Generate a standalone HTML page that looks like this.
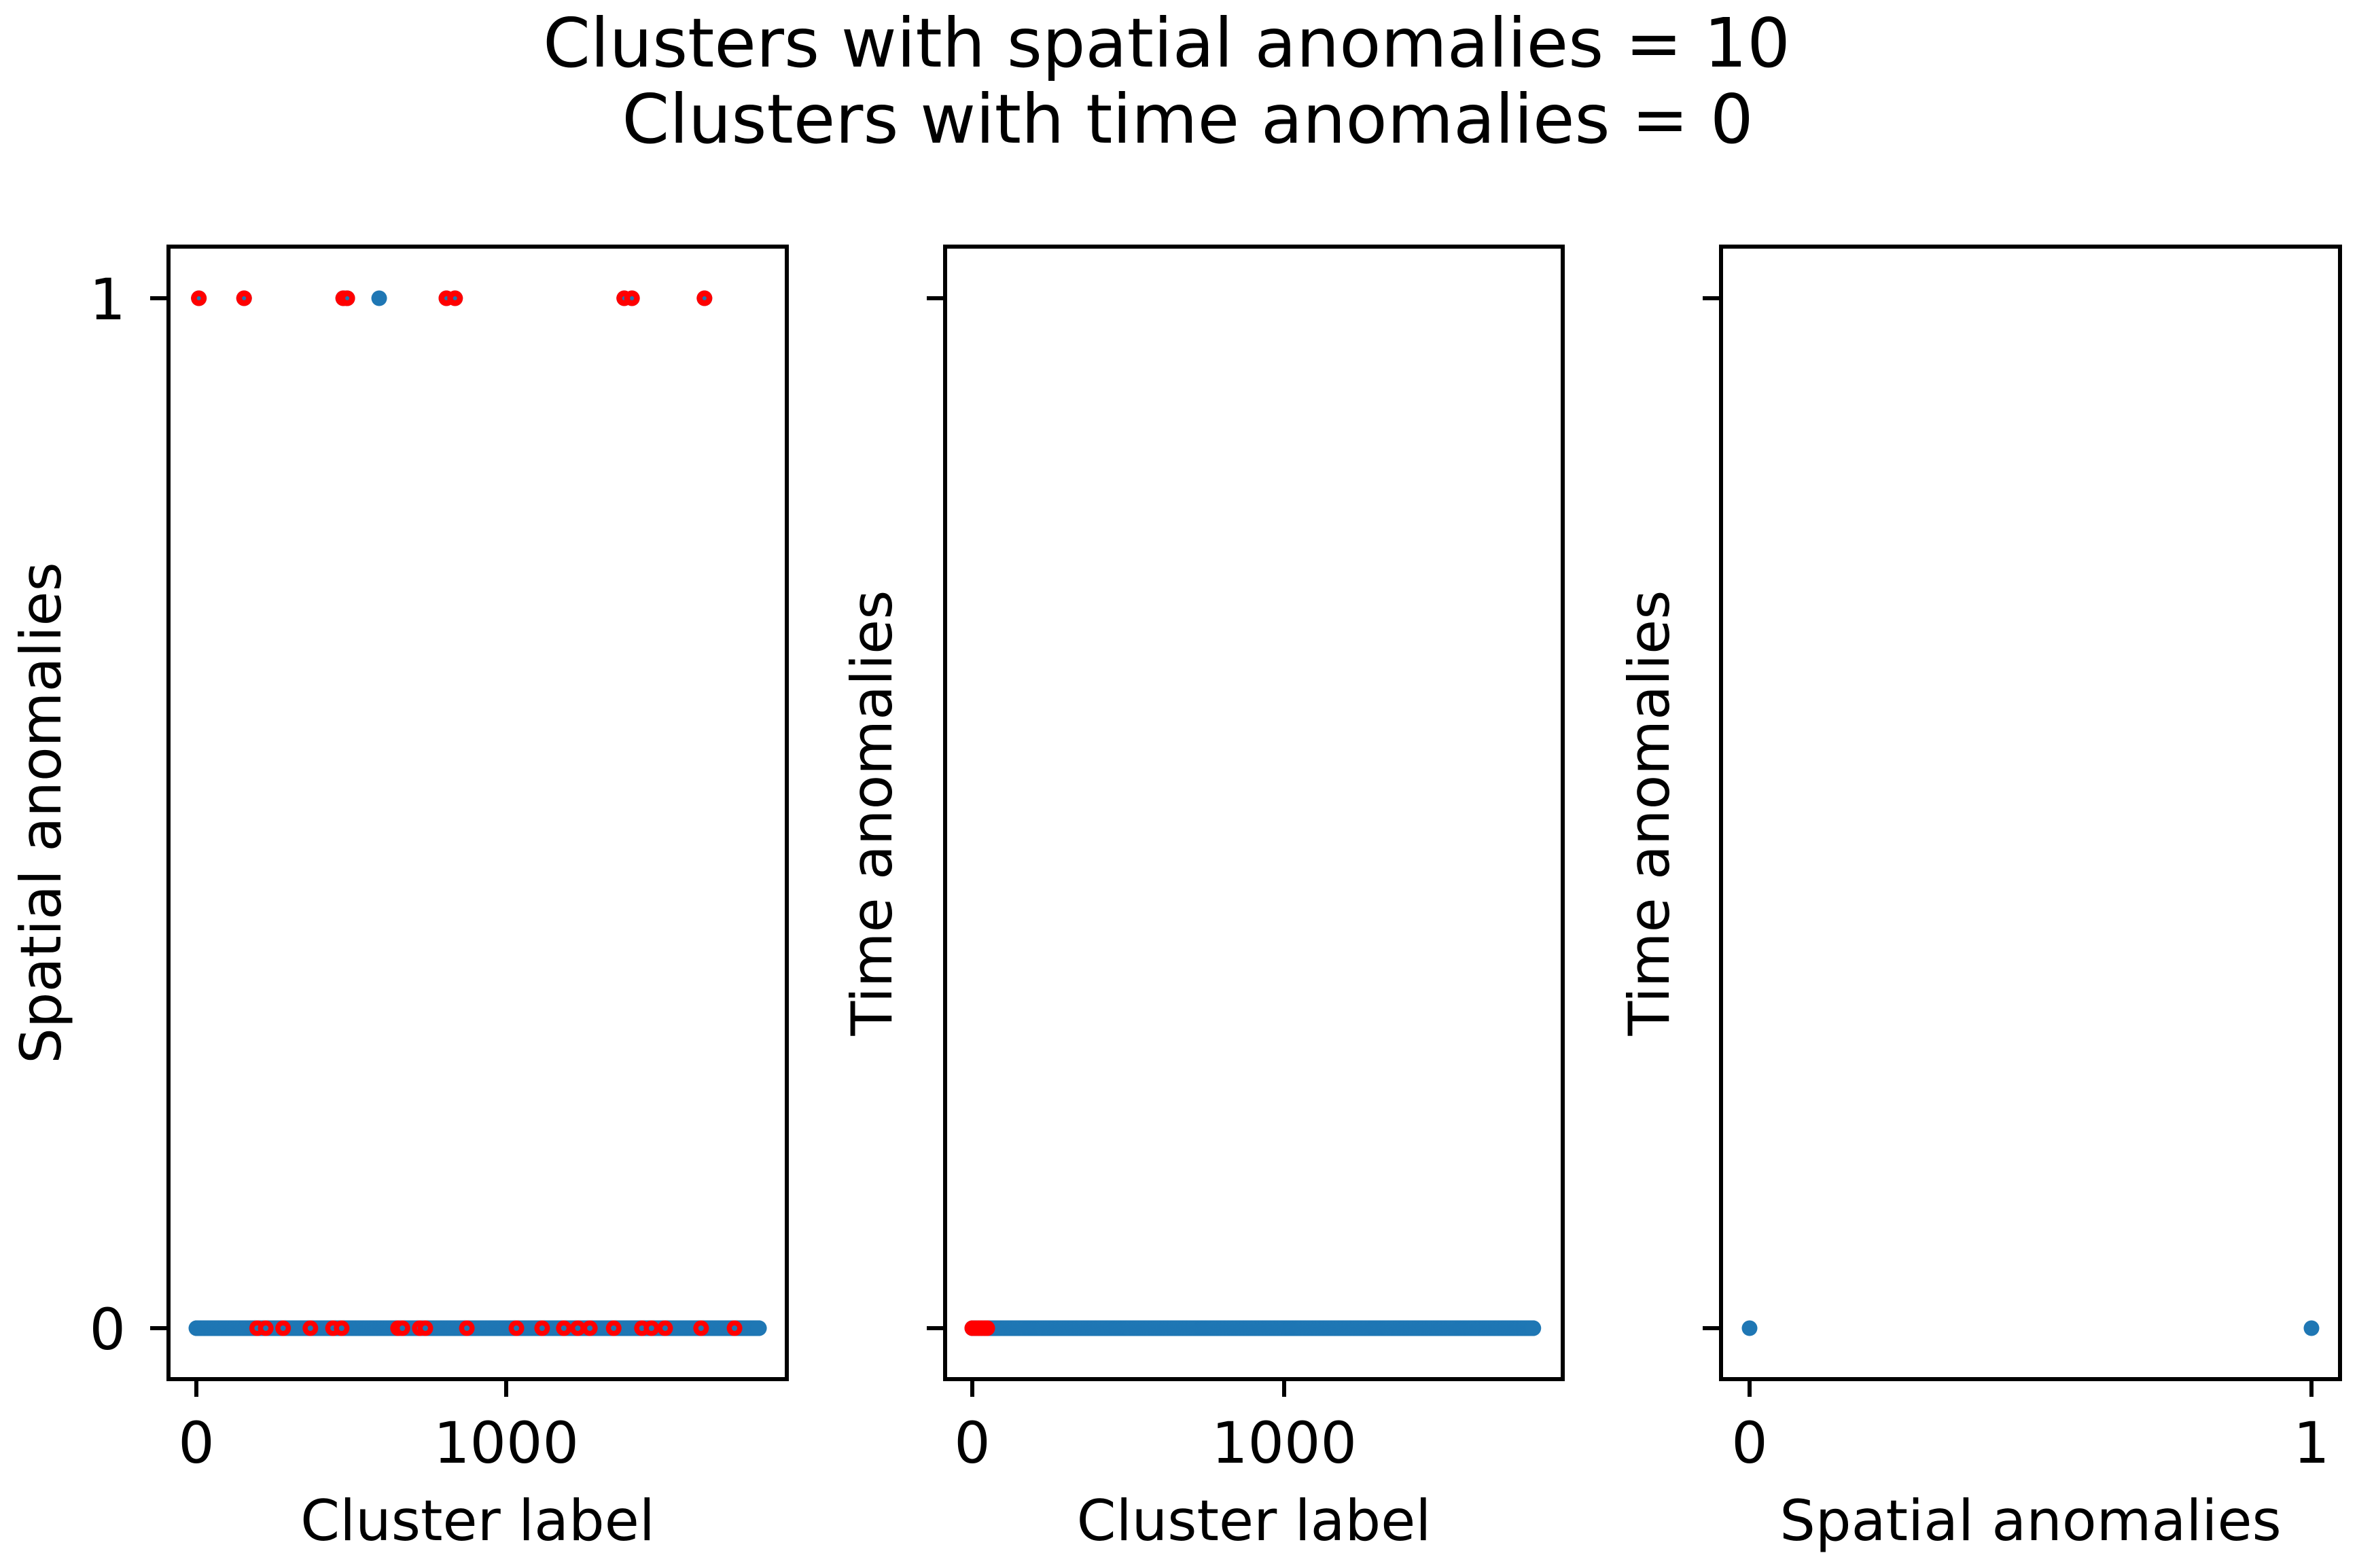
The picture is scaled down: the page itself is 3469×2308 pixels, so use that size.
<!DOCTYPE html>
<html><head><meta charset="utf-8"><style>html,body{margin:0;padding:0;background:#fff}svg{display:block}text{font-family:"DejaVu Sans","Liberation Sans",sans-serif;fill:#000}</style></head>
<body>
<svg id="fig" width="3469" height="2308" viewBox="0 0 3469 2308" xmlns="http://www.w3.org/2000/svg">
<rect width="3469" height="2308" fill="#fff"/>
<text x="1717" y="98" font-size="100" text-anchor="middle">Clusters with spatial anomalies = 10</text>
<text x="1748" y="210" font-size="100" text-anchor="middle">Clusters with time anomalies = 0</text>
<g id="ax1"></g>
<g id="ax2"></g>
<g id="ax3"></g>
</svg>
<script>
// data
const clusterCount1 = 1817;            // clusters 0..1816 in panel 1
const spatialOneLabels = [8, 154, 474, 487, 590, 807, 835, 1381, 1406, 1640];
const redTopLabels = [8, 154, 474, 487, 807, 835, 1381, 1406, 1640];
const redBottomLabels = [196, 224, 280, 368, 441, 469, 651, 665, 721, 739, 873, 1033, 1116, 1186, 1231, 1270, 1347, 1438, 1469, 1513, 1629, 1737];
const clusterCount2 = 1800;            // clusters in panel 2
const redTimeLabels = [0, 10, 20, 30, 40, 48];
const panel3X = [0, 1];
const panel3Y = [0, 0];
const xTicks12 = [0, 1000];
const xTicks3 = [0, 1];
const yTicks = [0, 1];

const NS = "http://www.w3.org/2000/svg";
const TOP = 363, BOT = 2030, Y0 = 1955, Y1 = 439;
const yScale = v => Y0 + (Y1 - Y0) * v;
function mk(tag, attrs, parent) {
  const e = document.createElementNS(NS, tag);
  for (const k in attrs) e.setAttribute(k, attrs[k]);
  parent.appendChild(e); return e;
}
function linScale(d0, p0, d1, p1) { return v => p0 + (v - d0) * (p1 - p0) / (d1 - d0); }

function frame(g, L, R, xs, xticks, xlabel, ylabel, ylabX, showYTickLabels) {
  const r = mk('rect', {x: L, y: TOP, width: R - L, height: BOT - TOP, fill: 'none', stroke: '#000', 'stroke-width': 6}, g);
  
  
  xticks.forEach(t => {
    const x = xs(t);
    const tl = mk('line', {x1: x, x2: x, y1: BOT, y2: BOT + 26, stroke: '#000', 'stroke-width': 6}, g);
    
    
    const tx = mk('text', {x: x, y: 2153, 'font-size': 84, 'text-anchor': 'middle'}, g);
    tx.textContent = String(t);
    
    
  });
  yTicks.forEach(t => {
    const y = yScale(t);
    const tl = mk('line', {x1: L - 27, x2: L, y1: y, y2: y, stroke: '#000', 'stroke-width': 6}, g);
    
    
    if (showYTickLabels) {
      const tx = mk('text', {x: L - 63, y: y + 31, 'font-size': 84, 'text-anchor': 'end'}, g);
      tx.textContent = String(t);
      
      
    }
  });
  const xl = mk('text', {x: (L + R) / 2, y: 2267, 'font-size': 83, 'text-anchor': 'middle'}, g);
  xl.textContent = xlabel;
  
  
  const cy = (TOP + BOT) / 2;
  const yl = mk('text', {x: ylabX, y: cy, 'font-size': 83, 'text-anchor': 'middle', transform: `rotate(-90 ${ylabX} ${cy})`, dy: '0.35em'}, g);
  yl.textContent = ylabel;
  
  
}
function dot(g, x, y, color, r, name) {
  const c = mk('circle', {cx: x, cy: y, r: r, fill: color}, g);
  
  
}

// panel 1
const g1 = document.getElementById('ax1');
const xs1 = linScale(0, 289, 1000, 745);
for (let i = 0; i < clusterCount1; i++) {
  const v = spatialOneLabels.includes(i) ? 1 : 0;
  dot(g1, xs1(i), yScale(v), '#1f77b4', 11.5, 'cluster-point');
}
redTopLabels.forEach(l => { dot(g1, xs1(l), yScale(1), '#ff0000', 11.5, 'anomaly-point'); dot(g1, xs1(l), yScale(1), '#1f77b4', 3, 'anomaly-center'); });
redBottomLabels.forEach(l => { dot(g1, xs1(l), yScale(0), '#ff0000', 11.5, 'anomaly-point'); dot(g1, xs1(l), yScale(0), '#1f77b4', 4, 'anomaly-center'); });
frame(g1, 248, 1158, xs1, xTicks12, 'Cluster label', 'Spatial anomalies', 60, true);

// panel 2
const g2 = document.getElementById('ax2');
const xs2 = linScale(0, 1431, 1000, 1890);
for (let i = 0; i < clusterCount2; i++) dot(g2, xs2(i), yScale(0), '#1f77b4', 11.5, 'cluster-point');
redTimeLabels.forEach(l => dot(g2, xs2(l), yScale(0), '#ff0000', 11.5, 'anomaly-point'));
frame(g2, 1391, 2300, xs2, xTicks12, 'Cluster label', 'Time anomalies', 1283, false);

// panel 3
const g3 = document.getElementById('ax3');
const xs3 = linScale(0, 2575, 1, 3402);
panel3X.forEach((v, i) => dot(g3, xs3(v), yScale(panel3Y[i]), '#1f77b4', 11.5, 'point'));
frame(g3, 2533, 3444, xs3, xTicks3, 'Spatial anomalies', 'Time anomalies', 2427, false);
</script>
</body></html>
